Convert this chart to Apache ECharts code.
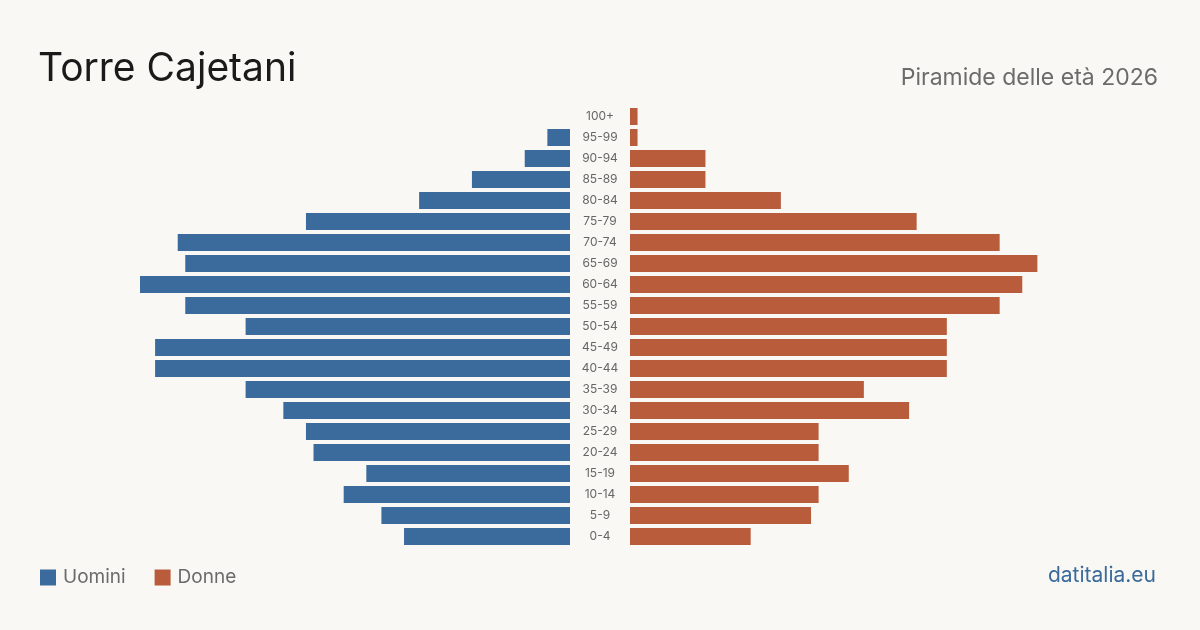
<!DOCTYPE html>
<html>
<head>
<meta charset="utf-8">
<script src="https://cdn.jsdelivr.net/npm/echarts@6/dist/echarts.min.js"></script>
<style>
  html, body { margin: 0; padding: 0; background: #f9f8f4; }
  #chart { width: 1200px; height: 630px; }
</style>
</head>
<body>
<div id="chart"></div>
<script>
// fasce d'età, dall'alto verso il basso
const ageGroups = ['100+', '95-99', '90-94', '85-89', '80-84', '75-79', '70-74', '65-69', '60-64', '55-59',
  '50-54', '45-49', '40-44', '35-39', '30-34', '25-29', '20-24', '15-19', '10-14', '5-9', '0-4']
const men = [0, 3, 6, 13, 20, 35, 52, 51, 57, 51, 43, 55, 55, 43, 38, 35, 34, 27, 30, 25, 22]
const women = [1, 1, 10, 10, 20, 38, 49, 54, 52, 49, 42, 42, 42, 31, 37, 25, 25, 29, 25, 24, 16]

const maxVal = Math.max(...men, ...women)
const blue = '#3a6b9c'
const red = '#b95c3c'
const font = 'Inter, "Noto Sans", sans-serif'

const chart = echarts.init(document.getElementById('chart'))

chart.setOption({
  backgroundColor: '#f9f8f4',
  textStyle: { fontFamily: font },
  title: [
    {
      text: 'Torre Cajetani',
      left: 33,
      top: 45,
      textStyle: { fontSize: 39, fontWeight: 'normal', color: '#1a1a1a', fontFamily: font }
    },
    {
      text: 'Piramide delle età 2026',
      right: 37,
      top: 62,
      textStyle: { fontSize: 23, fontWeight: 'normal', color: '#6b6b6b', fontFamily: font }
    },
    {
      text: 'datitalia.eu',
      right: 39,
      top: 560,
      textStyle: { fontSize: 21, fontWeight: 'normal', color: '#3a6b9c', fontFamily: font }
    }
  ],
  legend: {
    left: 40,
    top: 568,
    padding: 0,
    itemWidth: 16,
    itemHeight: 16,
    itemGap: 29,
    icon: 'rect',
    data: ['Uomini', 'Donne'],
    textStyle: { fontSize: 19, color: '#6b6b6b', fontFamily: font, padding: [0, 0, 0, 2] }
  },
  grid: [
    { left: 140, width: 430, top: 106, height: 441 },
    { left: 630, width: 430, top: 106, height: 441 }
  ],
  xAxis: [
    { gridIndex: 0, type: 'value', min: 0, max: maxVal, inverse: true, show: false },
    { gridIndex: 1, type: 'value', min: 0, max: maxVal, show: false }
  ],
  yAxis: [
    {
      gridIndex: 0,
      type: 'category',
      data: ageGroups,
      inverse: true,
      position: 'right',
      axisLine: { show: false },
      axisTick: { show: false },
      axisLabel: { align: 'center', margin: 30, fontSize: 12, color: '#666', fontFamily: font, padding: [2, 0, 0, 0] }
    },
    {
      gridIndex: 1,
      type: 'category',
      data: ageGroups,
      inverse: true,
      show: false
    }
  ],
  series: [
    {
      name: 'Uomini',
      type: 'bar',
      xAxisIndex: 0,
      yAxisIndex: 0,
      data: men,
      barWidth: 17,
      itemStyle: { color: blue },
      silent: true
    },
    {
      name: 'Donne',
      type: 'bar',
      xAxisIndex: 1,
      yAxisIndex: 1,
      data: women,
      barWidth: 17,
      itemStyle: { color: red },
      silent: true
    }
  ]
})
</script>
</body>
</html>
